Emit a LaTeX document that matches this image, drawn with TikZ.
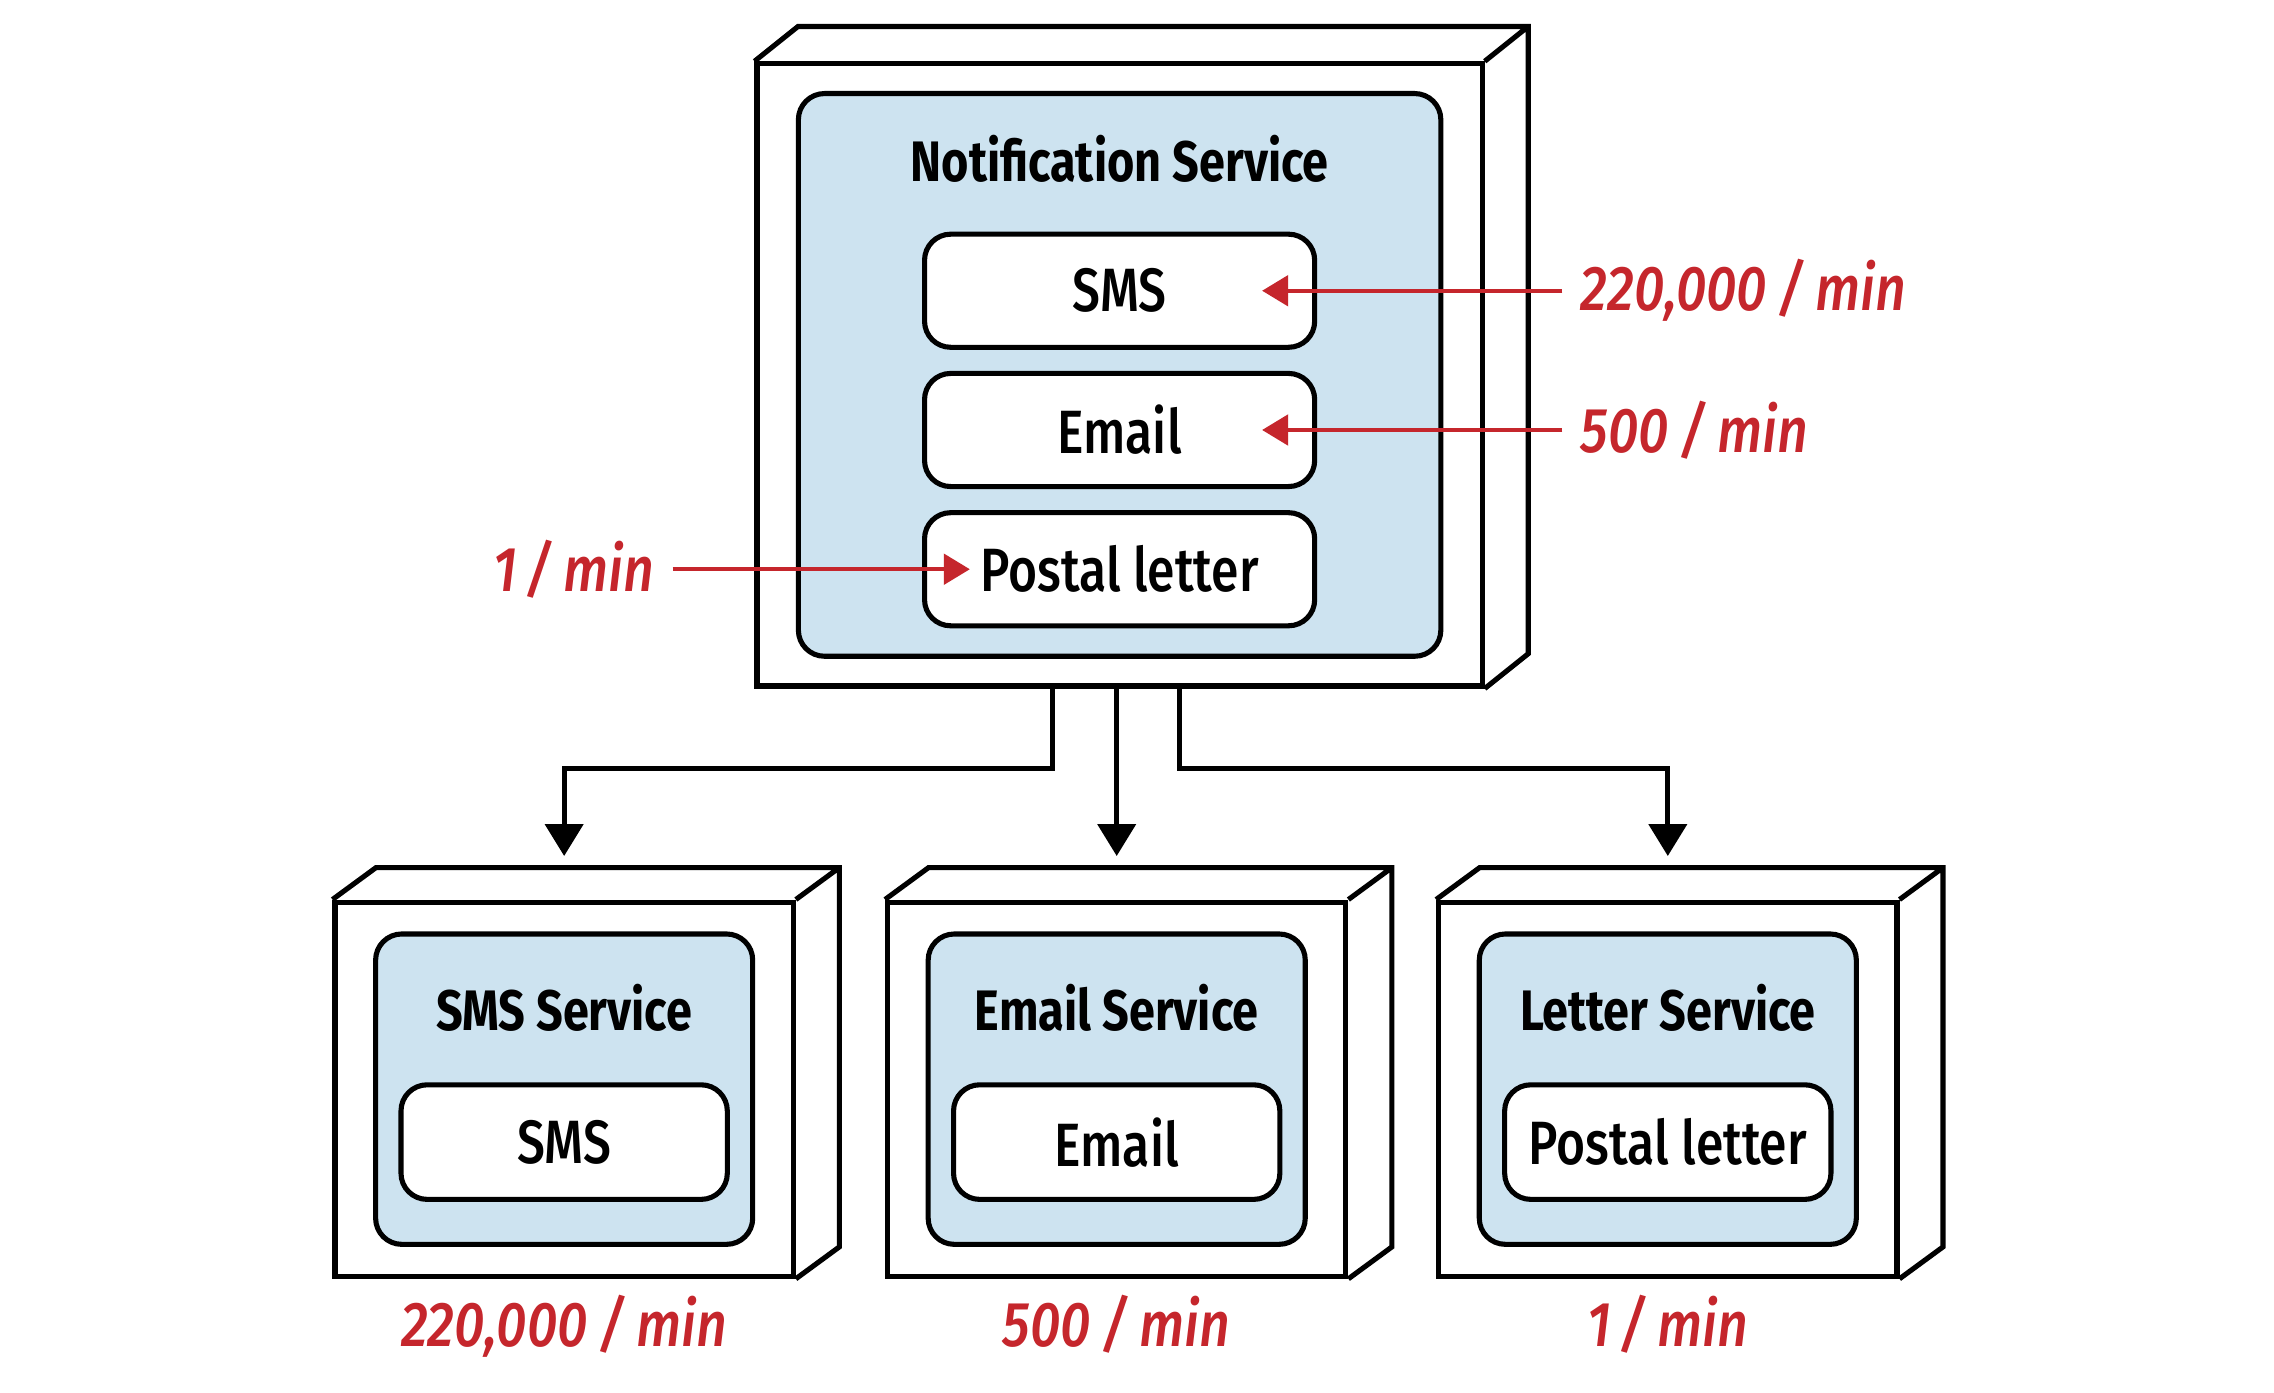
\documentclass[tikz,border=0pt]{standalone}
\usepackage{fontspec}
\setmainfont{Fira Sans}[FakeStretch=0.82]
\newfontfamily\medfont{Fira Sans Medium}[FakeStretch=0.815]
\newfontfamily\ratefont{Fira Sans Medium Italic}[FakeStretch=0.85]
\usetikzlibrary{positioning,arrows.meta}
\definecolor{svcblue}{RGB}{205,227,240}
\definecolor{ratered}{RGB}{197,38,44}

\begin{document}
\begin{tikzpicture}[every node/.style={align=center},
  server/.style={draw, line width=1pt, fill=white},
  svc/.style={draw, line width=1pt, fill=svcblue, rounded corners=0.18cm},
  item/.style={draw, line width=1pt, fill=white, rounded corners=0.18cm, font=\medfont\fontsize{12}{14}\selectfont},
  svctitle/.style={font=\bfseries\fontsize{11.2}{13}\selectfont},
  rate/.style={text=ratered, inner xsep=1.2mm, inner ysep=0pt, font=\ratefont\fontsize{12.4}{14}\selectfont},
  feed/.style={draw=ratered, line width=0.8pt, -{Triangle[width=0.21cm,length=0.18cm]}},
  conn/.style={line width=1pt, -{Triangle[width=0.26cm,length=0.22cm]}}]
\useasboundingbox (0,0) rectangle (15.68,9.60);

\node[server, minimum width=5cm, minimum height=4.29cm] (notif) at (7.72,7.015) {};
\node[svc, minimum width=4.43cm, minimum height=3.88cm] (notifin) at (notif) {};
\node[svctitle] (notiftitle) at ([yshift=-0.47cm]notifin.north) {Notification Service};
\node[item, minimum width=2.69cm, minimum height=0.78cm, above=0.21cm of notifin.south] (postal) {Postal letter};
\node[item, minimum width=2.69cm, minimum height=0.78cm, above=0.145cm of postal] (email) {Email};
\node[item, minimum width=2.69cm, minimum height=0.78cm, above=0.145cm of email] (sms) {SMS};

\node[server, minimum width=3.16cm, minimum height=2.58cm] (smssvc) at (3.89,2.09) {};
\node[svc, minimum width=2.6cm, minimum height=2.14cm] (smsin) at (smssvc) {};
\node[svctitle] (smstitle) at ([yshift=-0.53cm]smsin.north) {SMS Service};
\node[item, minimum width=2.25cm, minimum height=0.79cm, above=0.31cm of smsin.south] (smsitem) {SMS};

\node[server, minimum width=3.16cm, minimum height=2.58cm] (emailsvc) at (7.70,2.09) {};
\node[svc, minimum width=2.6cm, minimum height=2.14cm] (emailin) at (emailsvc) {};
\node[svctitle] (emailtitle) at ([yshift=-0.53cm]emailin.north) {Email Service};
\node[item, minimum width=2.25cm, minimum height=0.79cm, above=0.31cm of emailin.south] (emailitem) {Email};

\node[server, minimum width=3.16cm, minimum height=2.58cm] (lettersvc) at (11.50,2.09) {};
\node[svc, minimum width=2.6cm, minimum height=2.14cm] (letterin) at (lettersvc) {};
\node[svctitle] (lettertitle) at ([yshift=-0.53cm]letterin.north) {Letter Service};
\node[item, minimum width=2.25cm, minimum height=0.79cm, above=0.31cm of letterin.south] (letteritem) {Postal letter};

\foreach \b/\dy in {notif/0.24,smssvc/0.22,emailsvc/0.22,lettersvc/0.22}
  \draw[line width=1pt] (\b.north west) -- ++(0.3,\dy) -- ([shift={(0.3,\dy)}]\b.north east)
    -- ([shift={(0.3,\dy)}]\b.south east) -- (\b.south east) (\b.north east) -- ++(0.3,\dy);

\draw[conn] ([xshift=-0.46cm]notif.south) -- ++(0,-0.55) -| ([yshift=0.3cm]smssvc.north);
\draw[conn] (notif.south -| emailsvc.north) -- ([yshift=0.3cm]emailsvc.north);
\draw[conn] ([xshift=0.41cm]notif.south) -- ++(0,-0.55) -| ([yshift=0.3cm]lettersvc.north);

\node[rate, right=1.69cm of sms] (smsrate) {220,000\,/\,min};
\node[rate, right=1.69cm of email] (emailrate) {500\,/\,min};
\node[rate, left=1.72cm of postal] (postalrate) {1\kern0.12em/\,min};
\draw[feed] (smsrate.west) -- ([xshift=-0.38cm]sms.east);
\draw[feed] (emailrate.west) -- ([xshift=-0.38cm]email.east);
\draw[feed] (postalrate.east) -- ([xshift=0.33cm]postal.west);

\node[rate, below=0.47cm of smssvc.south, anchor=base] (smssvcrate) {220,000\,/\,min};
\node[rate, below=0.47cm of emailsvc.south, anchor=base] (emailsvcrate) {500\,/\,min};
\node[rate, below=0.47cm of lettersvc.south, anchor=base] (lettersvcrate) {1\kern0.12em/\,min};
\end{tikzpicture}
\end{document}
